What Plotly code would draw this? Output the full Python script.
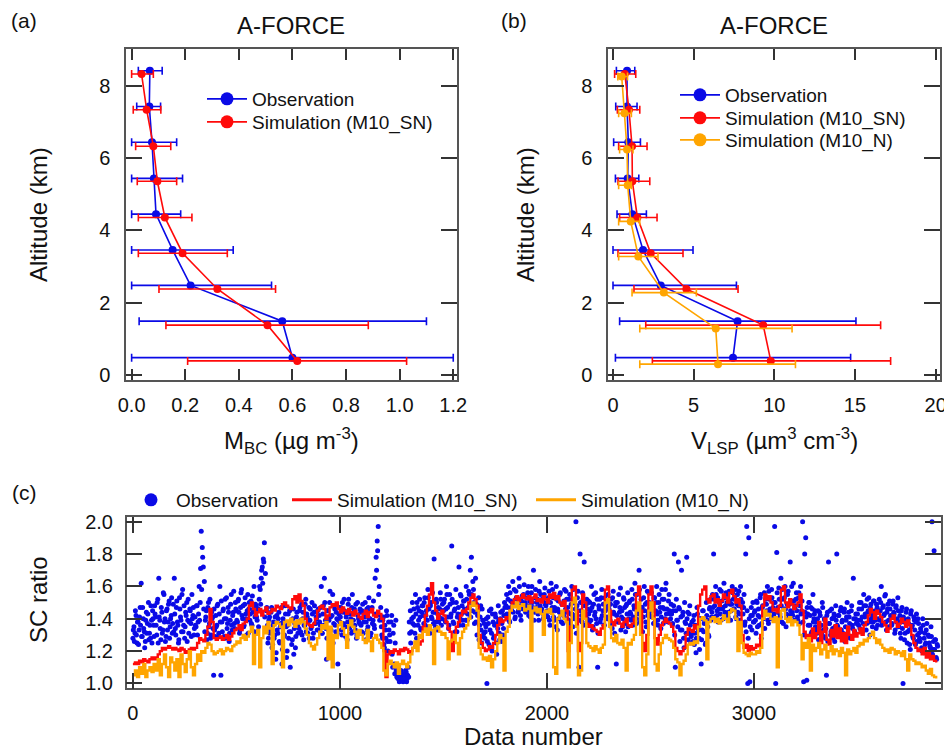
import numpy as np
import plotly.graph_objects as go

# The page is shown with an 8 px body margin, so the figure starts 8 px in;
# every reference pixel position is shifted by that margin.
REF_W, REF_H, OFF = 952, 751, 8
W, H = REF_W - OFF, REF_H - OFF
FONT = "Arial, 'Liberation Sans', sans-serif"
BLUE, RED, ORANGE = "#0a0ae6", "#ff0a0a", "#ffa500"

def px(x):
    return (x - OFF) / W

def py(y):
    return 1 - (y - OFF) / H

# ---------------- Panel (a) / (b) data ----------------
alt_obs = [8.42, 7.43, 6.44, 5.44, 4.45, 3.46, 2.48, 1.49, 0.48]
alt_sn = [8.33, 7.34, 6.33, 5.36, 4.36, 3.37, 2.38, 1.38, 0.39]
alt_n = [8.26, 7.24, 6.24, 5.25, 4.25, 3.28, 2.28, 1.29, 0.30]

mbc_obs = [0.068, 0.066, 0.076, 0.083, 0.091, 0.153, 0.22, 0.562, 0.60]
mbc_obs_lo = [0.025, 0.019, 0.0, 0.0, 0.0, 0.0, 0.0, 0.028, 0.0]
mbc_obs_hi = [0.114, 0.108, 0.168, 0.19, 0.183, 0.379, 0.522, 1.10, 1.20]
mbc_sn = [0.037, 0.056, 0.081, 0.096, 0.124, 0.19, 0.32, 0.507, 0.618]
mbc_sn_lo = [0.0, 0.006, 0.015, 0.021, 0.025, 0.025, 0.102, 0.128, 0.209]
mbc_sn_hi = [0.081, 0.109, 0.146, 0.168, 0.225, 0.357, 0.537, 0.883, 1.026]

v_obs = [0.87, 0.87, 0.95, 0.91, 1.2, 1.86, 2.96, 7.72, 7.44]
v_obs_lo = [0.21, 0.17, 0.04, 0.15, 0.25, 0.0, 0.0, 0.41, 0.15]
v_obs_hi = [1.35, 1.49, 1.7, 1.6, 2.07, 4.96, 7.65, 15.06, 14.73]
v_sn = [0.73, 0.99, 1.18, 1.2, 1.51, 2.34, 4.55, 9.31, 9.78]
v_sn_lo = [0.1, 0.27, 0.35, 0.31, 0.41, 0.31, 1.30, 2.03, 2.44]
v_sn_hi = [1.41, 1.66, 2.11, 2.28, 2.73, 4.34, 7.75, 16.59, 17.21]
v_n = [0.54, 0.71, 0.87, 0.91, 1.1, 1.57, 3.15, 6.37, 6.51]
v_n_lo = [0.3, 0.35, 0.41, 0.35, 0.35, 0.35, 1.18, 1.66, 1.66]
v_n_hi = [0.9, 1.14, 1.24, 1.14, 1.66, 2.79, 5.17, 11.1, 11.31]

# ---------------- Panel (c) data (SC ratio x100) ----------------
obs_step = 5      # data numbers between listed observation values
sim_step = 10     # data numbers between listed simulation values

obs_0000 = [
    128,135,131,142,125,138,133,147,162,129,140,132,126,144,137,150,131,128,139,145,
    136,148,141,130,152,165,139,127,144,133,155,140,129,146,138,151,135,142,131,149,
    165,134,147,138,125,153,141,132,158,136,128,144,150,139,131,146,137,155,142,130,
    141,135,148,138,160,150,194,184,172,163,139,145,131,150,137,128,144,141,105,133,
    142,136,149,131,160,105,138,145,129,152,140,134,147,126,139,155,133,144,137,150,
    145,138,152,131,147,158,140,135,149,143,130,155,146,139,151,136,144,160,141,148,
    139,146,152,158,165,172,177,187,168,145,136,128,141,133,147,124,138,130,115,142,
    131,144,125,137,112,140,129,148,135,120,143,132,110,139,127,146,134,122,141,136,
    138,145,132,149,140,127,136,152,143,131,147,139,134,150,128,144,137,141,133,146,
    142,136,160,131,148,165,139,115,145,133,150,141,128,155,137,146,132,140,112,143,
]
obs_1000 = [
    138,147,130,144,152,135,141,127,149,136,143,131,155,139,146,133,128,150,140,137,
    144,132,149,138,141,127,146,135,153,140,131,147,139,136,165,178,188,197,160,142,
    135,128,141,122,133,145,126,138,130,119,142,110,136,106,139,104,103,106,102,108,
    104,101,105,102,107,103,110,138,145,132,150,141,136,155,128,147,139,152,134,144,
    148,137,153,142,135,158,146,131,150,140,144,177,138,152,133,147,141,156,136,149,
    145,152,138,160,147,134,155,141,185,150,137,146,158,132,143,172,140,154,148,136,
    151,144,160,139,147,155,170,178,145,158,137,165,149,142,153,136,148,125,139,131,
    128,135,100,141,124,133,146,120,138,129,143,125,137,148,131,140,126,145,134,150,
    142,155,147,160,138,151,145,163,149,140,157,152,144,165,148,139,154,146,161,150,
    153,145,160,148,141,156,150,170,144,158,147,152,139,163,155,146,151,142,159,148,
]
obs_2000 = [
    150,141,157,136,162,147,153,139,145,160,133,151,144,156,138,149,142,158,146,152,
    147,139,155,143,160,135,150,142,200,148,157,110,180,145,138,152,175,144,149,140,
    151,138,145,160,133,149,142,156,137,110,148,152,140,158,145,136,153,147,141,155,
    146,139,152,134,157,143,148,112,150,138,144,159,141,135,153,147,132,149,156,140,
    151,143,158,136,148,162,140,155,145,170,138,152,147,141,160,149,135,157,144,150,
    142,156,148,137,153,145,160,139,150,144,134,158,147,152,140,162,146,138,155,143,
    149,136,145,180,110,152,139,175,146,133,170,142,128,150,137,178,144,131,148,125,
    138,126,142,131,119,147,135,128,140,112,133,145,137,124,150,139,130,146,152,141,
    155,180,148,160,142,153,146,158,139,151,147,162,144,156,150,141,157,149,145,160,
    152,146,158,140,155,148,143,160,137,150,147,136,180,197,100,190,101,142,133,150,
]
obs_3000 = [
    138,145,131,150,142,136,153,128,147,140,156,143,149,160,137,152,145,158,141,150,
    197,100,181,147,159,143,165,138,152,146,160,135,149,157,142,175,151,144,162,139,
    148,156,141,153,137,160,145,200,101,180,190,102,143,150,136,147,132,155,140,145,
    138,131,145,127,142,136,150,133,140,128,105,144,175,137,130,146,134,141,126,148,
    180,135,142,129,147,138,131,144,126,139,150,134,141,128,145,136,165,132,140,137,
    143,136,150,139,146,132,155,141,148,137,144,153,130,149,142,138,151,145,134,147,
    140,152,145,160,137,148,143,155,133,146,139,151,142,136,149,144,131,147,138,153,
    135,142,128,147,100,138,131,144,125,140,133,121,145,136,128,139,124,143,130,137,
    128,134,122,140,119,131,125,137,118,129,123,135,200,121,182,127,116,124,
]
# second half of the observations (interleaved data numbers)
obs_b_0000 = [
    133,126,145,130,138,124,141,136,129,147,134,122,139,131,143,127,136,148,125,140,
    129,143,136,150,125,141,134,147,131,156,138,126,145,133,149,128,140,153,137,132,
    143,130,151,136,127,146,139,155,132,148,135,142,126,152,138,145,129,140,147,134,
    136,148,130,143,139,171,158,178,146,132,141,127,147,135,152,130,140,134,146,129,
    135,148,129,143,138,151,132,146,140,128,153,137,144,131,149,136,142,157,134,146,
    139,151,144,133,156,142,148,136,153,140,145,131,150,143,137,154,146,132,149,141,
    146,135,160,149,170,162,175,141,133,147,125,139,131,144,122,136,128,141,119,133,
    140,126,135,147,121,138,130,143,116,136,128,145,132,124,140,118,137,129,144,131,
    134,147,139,130,144,136,149,132,141,138,128,146,135,143,131,148,137,140,145,133,
    138,147,131,143,136,150,134,128,145,139,157,133,142,125,148,136,144,131,139,147,
]
obs_b_1000 = [
    141,133,150,137,145,129,143,138,152,134,140,147,132,144,136,149,130,142,138,146,
    136,145,131,142,150,138,133,147,140,129,145,137,151,134,143,170,182,155,139,147,
    130,139,124,136,128,142,120,133,126,138,118,131,112,125,108,104,107,101,105,103,
    102,106,103,108,101,105,104,131,125,140,137,146,131,143,150,136,145,141,133,148,
    142,150,136,145,139,153,134,148,141,156,137,144,135,150,143,138,146,152,140,145,
    150,139,146,155,141,136,149,143,152,138,145,132,150,141,147,136,155,143,139,151,
    146,139,152,143,157,148,141,155,163,150,144,138,130,145,127,141,133,146,129,137,
    132,140,126,137,145,122,131,143,128,136,141,118,134,139,127,144,137,130,142,147,
    148,143,152,139,156,147,150,144,158,141,153,148,145,160,142,151,147,155,149,144,
    148,156,142,151,145,160,147,139,153,146,150,143,157,148,144,152,140,155,149,143,
]
obs_b_2000 = [
    145,153,139,150,144,158,141,147,135,152,146,140,155,143,149,137,151,144,157,140,
    144,152,137,149,143,158,140,146,131,153,145,139,150,142,156,136,148,141,152,146,
    143,150,139,147,135,155,144,140,152,131,146,138,153,142,149,136,145,151,140,148,
    141,149,136,153,144,131,150,142,138,155,147,133,145,140,152,137,148,143,135,150,
    144,139,152,141,146,155,137,149,143,158,140,147,132,153,145,138,150,142,156,146,
    149,141,145,153,138,150,143,136,155,147,141,152,137,146,158,143,139,151,145,140,
    143,137,148,130,145,139,135,147,126,141,133,144,122,138,131,140,127,143,136,129,
    131,139,124,136,128,143,133,121,140,127,145,132,138,125,142,135,129,147,139,144,
    147,152,141,155,145,138,150,143,157,146,140,153,148,142,155,144,151,139,149,156,
    146,153,141,149,144,157,139,152,147,143,155,138,132,145,128,140,135,147,142,138,
]
obs_b_3000 = [
    144,139,151,135,146,141,155,137,148,143,134,152,145,139,157,146,140,153,147,143,
    150,139,156,144,152,141,148,158,137,153,146,143,155,140,149,145,160,142,151,147,
    152,145,139,156,148,143,151,138,130,144,141,147,136,150,142,131,146,138,143,135,
    133,140,127,144,136,131,147,129,139,134,142,126,137,145,132,140,128,143,135,139,
    136,142,130,145,133,139,127,146,135,141,131,144,137,129,148,134,140,132,143,138,
    139,146,134,150,141,137,148,143,133,152,145,138,147,140,135,151,144,139,149,136,
    145,139,150,136,147,142,154,138,144,149,135,146,141,137,151,143,133,148,140,145,
    138,131,145,134,141,127,139,146,132,137,124,143,135,129,141,133,138,126,140,131,
    126,132,120,136,128,124,133,119,130,125,122,129,118,126,121,127,115,123,
]

sn_0000 = [
    112,113,112,114,113,115,114,113,115,116,
    115,116,118,120,122,121,122,123,122,121,
    122,121,120,122,121,119,120,121,122,121,
    122,125,128,127,126,130,135,146,138,128,
    127,128,129,127,128,130,127,129,131,133,
    134,136,133,137,138,140,148,150,146,142,
    144,146,142,145,147,143,144,146,145,148,
    147,146,149,150,148,147,146,152,154,150,
    155,151,148,140,137,136,135,137,140,145,
    147,148,146,140,142,147,149,148,150,146,
]
sn_1000 = [
    144,147,145,143,146,144,142,145,143,141,
    140,143,145,141,144,146,142,141,145,143,
    140,120,104,118,120,119,121,120,118,121,
    120,122,121,119,120,122,123,125,124,126,
    135,142,148,155,162,150,145,140,143,145,
    142,138,134,132,120,130,135,138,142,145,
    144,146,150,153,155,152,148,130,125,122,
    120,121,123,122,125,130,136,140,138,139,
    141,140,145,150,152,154,151,153,155,153,
    152,154,150,153,155,151,152,150,154,152,
]
sn_2000 = [
    150,155,153,156,152,154,150,148,151,145,
    120,135,158,160,145,120,125,155,150,137,
    135,136,134,133,132,130,134,136,158,160,
    145,138,136,139,140,137,135,138,140,136,
    135,137,140,155,160,145,125,120,130,155,
    160,150,128,124,130,136,138,140,138,137,
    135,132,122,120,118,120,122,130,134,133,
    132,136,134,148,155,158,160,152,150,154,
    155,150,152,148,151,155,153,150,156,158,
    154,150,152,148,130,122,124,120,123,121,
]
sn_3000 = [
    122,124,123,130,148,155,152,154,150,145,
    146,144,148,158,160,150,147,152,149,146,
    148,150,155,145,132,128,130,126,134,128,
    131,138,125,132,140,127,124,133,129,136,
    128,134,126,131,125,135,130,127,133,129,
    131,134,130,136,138,142,146,144,140,145,
    143,141,138,136,132,134,140,142,138,135,
    137,140,138,135,139,136,130,125,122,120,
    121,118,122,116,120,115,117,114,113,
]

n_0000 = [
    105,108,104,110,106,112,104,108,110,107,
    112,108,115,105,112,118,110,104,116,113,
    108,115,104,118,112,107,115,120,110,105,
    112,118,114,120,119,122,125,124,120,118,
    119,120,121,118,120,122,121,120,123,124,
    126,125,128,130,127,129,132,135,112,130,
    133,110,128,135,131,138,134,112,136,138,
    137,135,110,138,139,136,140,138,135,139,
    137,140,138,134,130,125,123,121,124,128,
    132,136,134,138,115,135,110,130,128,136,
]
n_1000 = [
    138,134,130,122,136,139,135,132,128,133,
    130,127,125,133,126,120,128,130,127,125,
    122,108,105,112,114,112,110,113,106,112,
    114,112,110,113,118,122,126,120,130,128,
    132,134,130,136,133,112,134,135,132,130,
    131,128,115,126,127,130,125,118,128,132,
    134,136,140,148,150,148,145,122,118,115,
    116,114,117,110,115,120,125,130,128,108,
    132,135,145,148,147,150,146,148,149,145,
    146,148,120,145,147,144,146,143,130,145,
]
n_2000 = [
    144,146,143,110,106,140,142,145,140,138,
    110,125,150,153,135,105,108,145,140,125,
    123,122,120,123,121,119,122,124,150,152,
    135,128,126,130,125,124,127,122,108,125,
    124,127,130,145,150,130,110,105,118,145,
    150,140,112,108,118,125,128,130,128,127,
    126,122,115,113,105,112,114,118,124,125,
    124,126,125,135,140,141,139,115,138,140,
    141,138,140,137,139,142,140,138,144,146,
    145,140,120,138,125,119,118,117,119,118,
]
n_3000 = [
    118,120,119,122,140,145,142,143,140,138,
    141,110,140,145,146,140,138,141,136,139,
    138,136,130,115,125,122,128,108,124,120,
    122,125,118,121,124,116,120,123,118,121,
    120,117,122,119,105,121,118,120,122,119,
    123,125,124,127,126,128,130,132,128,125,
    127,124,122,120,121,119,122,121,118,120,
    119,117,120,115,108,118,115,114,112,113,
    112,110,111,108,106,109,105,104,103,
]

obs_a_sc = np.array(obs_0000 + obs_1000 + obs_2000 + obs_3000) / 100.0
obs_b_sc = np.array(obs_b_0000 + obs_b_1000 + obs_b_2000 + obs_b_3000) / 100.0
sn_sc = np.array(sn_0000 + sn_1000 + sn_2000 + sn_3000) / 100.0
n_sc = np.array(n_0000 + n_1000 + n_2000 + n_3000) / 100.0
obs_num = np.concatenate([np.arange(len(obs_a_sc)) * obs_step,
                          np.arange(len(obs_b_sc)) * obs_step + 2])
obs_sc = np.concatenate([obs_a_sc, obs_b_sc])
sim_num = np.arange(len(sn_sc)) * sim_step

# ---------------- Figure ----------------
fig = go.Figure()

def prof(x, lo, hi, y, color, xa, ya):
    x = np.array(x); lo = np.array(lo); hi = np.array(hi)
    return go.Scatter(
        x=x, y=y, mode="lines+markers", xaxis=xa, yaxis=ya,
        line=dict(color=color, width=1.6),
        marker=dict(color=color, size=8),
        error_x=dict(type="data", symmetric=False, array=hi - x, arrayminus=x - lo,
                     color=color, thickness=1.6, width=4),
        showlegend=False, hoverinfo="skip")

fig.add_trace(prof(mbc_obs, mbc_obs_lo, mbc_obs_hi, alt_obs, BLUE, "x", "y"))
fig.add_trace(prof(mbc_sn, mbc_sn_lo, mbc_sn_hi, alt_sn, RED, "x", "y"))
fig.add_trace(prof(v_obs, v_obs_lo, v_obs_hi, alt_obs, BLUE, "x2", "y2"))
fig.add_trace(prof(v_sn, v_sn_lo, v_sn_hi, alt_sn, RED, "x2", "y2"))
fig.add_trace(prof(v_n, v_n_lo, v_n_hi, alt_n, ORANGE, "x2", "y2"))

# panel c
fig.add_trace(go.Scatter(x=obs_num, y=obs_sc, mode="markers", xaxis="x3", yaxis="y3",
                         marker=dict(color=BLUE, size=5), showlegend=False, hoverinfo="skip"))
fig.add_trace(go.Scatter(x=sim_num, y=sn_sc, mode="lines", xaxis="x3", yaxis="y3",
                         line=dict(color=RED, width=2.4, shape="hv"), showlegend=False, hoverinfo="skip"))
fig.add_trace(go.Scatter(x=sim_num, y=n_sc, mode="lines", xaxis="x3", yaxis="y3",
                         line=dict(color=ORANGE, width=2.4, shape="hv"), showlegend=False, hoverinfo="skip"))

# legend entries: one legend per entry so that each sits where the reference shows it
LEGEND_ITEMS = [
    # name, colour, mode, text-start x (px), centre y (px), line width
    ("Observation", BLUE, "lines+markers", 254, 99, 1.6),
    ("Simulation (M10_SN)", RED, "lines+markers", 254, 122, 1.6),
    ("Observation", BLUE, "lines+markers", 727, 95, 1.6),
    ("Simulation (M10_SN)", RED, "lines+markers", 727, 118, 1.6),
    ("Simulation (M10_N)", ORANGE, "lines+markers", 727, 140, 1.6),
    ("Observation", BLUE, "markers", 178, 500, 3),
    ("Simulation (M10_SN)", RED, "lines", 339, 500, 3),
    ("Simulation (M10_N)", ORANGE, "lines", 583, 500, 3),
]
legend_layout = {}
for i, (name, color, mode, tx, ty, lw) in enumerate(LEGEND_ITEMS):
    lid = "legend" if i == 0 else "legend%d" % (i + 1)
    fig.add_trace(go.Scatter(x=[None], y=[None], name=name, mode=mode, legend=lid,
                             marker=dict(color=color, size=13),
                             line=dict(color=color, width=lw), hoverinfo="skip"))
    legend_layout[lid] = dict(x=px(tx - 52), y=py(ty), xanchor="left", yanchor="middle",
                              bgcolor="rgba(0,0,0,0)", font=dict(family=FONT, size=19),
                              itemwidth=40, borderwidth=0)

axcommon = dict(showline=True, linecolor="#555555", linewidth=1.5, mirror="ticks",
                ticks="inside", tickcolor="#333333", tickwidth=1.5,
                showgrid=False, zeroline=False, automargin=False,
                ticklabeloverflow="allow",
                tickfont=dict(family=FONT, size=20, color="#111111"))

fig.update_layout(
    width=W, height=H, margin=dict(l=0, r=0, t=0, b=0, pad=0, autoexpand=False),
    paper_bgcolor="white", plot_bgcolor="white",
    font=dict(family=FONT, color="#111111"),
    xaxis=dict(domain=[px(126), px(457)], range=[-0.021, 1.214], anchor="y",
               tickvals=[0, 0.2, 0.4, 0.6, 0.8, 1.0, 1.2], tickformat=".1f",
               ticklen=11, ticklabelstandoff=6, **axcommon),
    yaxis=dict(domain=[py(380), py(49)], range=[-0.138, 9.02], anchor="x",
               tickvals=[0, 2, 4, 6, 8], ticklen=16, ticklabelstandoff=10, **axcommon),
    xaxis2=dict(domain=[px(608), px(940)], range=[-0.31, 20.27], anchor="y2",
                tickvals=[0, 5, 10, 15, 20], ticklen=11, ticklabelstandoff=6, **axcommon),
    yaxis2=dict(domain=[py(380), py(49)], range=[-0.138, 9.02], anchor="x2",
                tickvals=[0, 2, 4, 6, 8], ticklen=16, ticklabelstandoff=10, **axcommon),
    xaxis3=dict(domain=[px(126.7), px(940.7)], range=[-30, 3902], anchor="y3",
                tickvals=[0, 1000, 2000, 3000], ticklen=16, ticklabelstandoff=6, **axcommon),
    yaxis3=dict(domain=[py(688.3), py(517.3)], range=[0.97, 2.027], anchor="x3",
                tickvals=[1.0, 1.2, 1.4, 1.6, 1.8, 2.0], tickformat=".1f",
                ticklen=16, ticklabelstandoff=8, **axcommon),
    **legend_layout,
)

ann = []
def text(t, x, y, size, angle=0, xanchor="center"):
    ann.append(dict(text=t, x=px(x), y=py(y), xref="paper", yref="paper",
                    showarrow=False, xanchor=xanchor, yanchor="middle", textangle=angle,
                    font=dict(family=FONT, size=size, color="#111111")))

text("(a)", 24, 20, 21)
text("(b)", 514, 20, 21)
text("(c)", 24, 493, 21)
text("A-FORCE", 291, 26, 24)
text("A-FORCE", 774, 26, 24)
text("Altitude (km)", 38, 215, 24, angle=-90)
text("Altitude (km)", 525, 215, 24, angle=-90)
text("M<sub>BC</sub> (µg m<sup>-3</sup>)", 291, 441, 24)
text("V<sub>LSP</sub> (µm<sup>3</sup> cm<sup>-3</sup>)", 774, 441, 24)
text("SC ratio", 38, 600, 24, angle=-90)
text("Data number", 533, 736, 24)
fig.update_layout(annotations=ann)

fig.write_html("out.html")
